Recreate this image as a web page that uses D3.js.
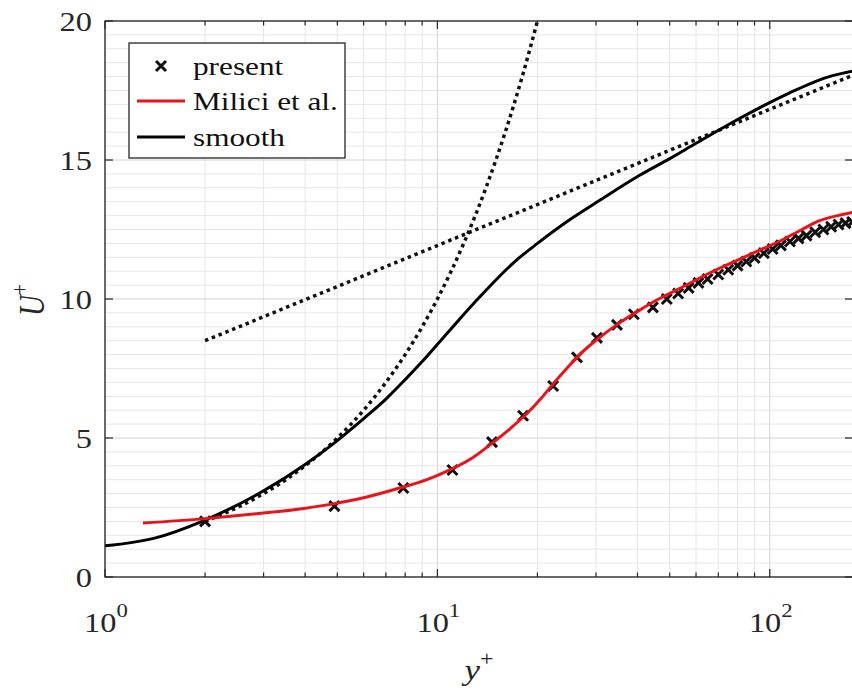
<!DOCTYPE html>
<html>
<head>
<meta charset="utf-8">
<script src="https://cdn.jsdelivr.net/npm/d3@7"></script>
<style>
  body { margin: 0; background: #fff; }
  svg { display: block; font-family: "Liberation Serif", "Times New Roman", serif; }
</style>
</head>
<body>
<svg id="chart" width="852" height="692"></svg>
<script>
// data
const presentYplus = [2.0, 4.9, 7.9, 11.1, 14.6, 18.1, 22.3, 26.3, 30.2, 34.7, 39, 44.5, 49, 53, 57, 61, 65, 70, 75, 80, 85, 90, 96, 102, 108, 115, 122, 129, 137, 145, 153, 161, 169, 177];
const presentU     = [2.0, 2.55, 3.2, 3.85, 4.85, 5.8, 6.87, 7.9, 8.6, 9.07, 9.45, 9.7, 10.0, 10.2, 10.4, 10.58, 10.72, 10.88, 11.05, 11.2, 11.35, 11.48, 11.65, 11.8, 11.93, 12.07, 12.18, 12.28, 12.4, 12.5, 12.6, 12.68, 12.73, 12.77];

const miliciYplus = [1.3, 2, 3, 3.86, 4.85, 6, 7.7, 9.3, 10.9, 12.8, 14.7, 16.6, 18.6, 20.5, 22.3, 24.5, 26.8, 30.8, 35.4, 40.6, 46, 55, 65, 80, 95, 110, 125, 140, 160, 178];
const miliciU     = [1.94, 2.1, 2.3, 2.45, 2.63, 2.85, 3.2, 3.5, 3.85, 4.3, 4.84, 5.35, 5.88, 6.42, 6.95, 7.5, 8.0, 8.62, 9.15, 9.6, 9.98, 10.45, 10.9, 11.4, 11.8, 12.15, 12.5, 12.8, 13.0, 13.12];

const smoothYplus = [1, 1.41, 2, 3, 4, 4.75, 6, 7, 8, 9, 10.9, 13.4, 17.3, 20, 25, 30.8, 40.6, 50, 60, 81.3, 114, 151, 178];
const smoothU     = [1.12, 1.4, 2.05, 3.1, 4.05, 4.7, 5.7, 6.4, 7.1, 7.75, 8.88, 10.07, 11.4, 12.0, 12.85, 13.55, 14.45, 15.05, 15.6, 16.5, 17.4, 18.0, 18.2];

const linearYplus = [2, 2.5, 3, 3.5, 4, 5, 6, 7, 8, 9, 10, 12, 14, 16, 18, 20];
const linearU     = [2, 2.5, 3, 3.5, 4, 5, 6, 7, 8, 9, 10, 12, 14, 16, 18, 20];

const logLawYplus = [2, 178];
const logLawU     = [8.5, 18.05];

const xTickValues = [1, 10, 100];
const xTickPowers = ["0", "1", "2"];
const yTickValues = [0, 5, 10, 15, 20];

const legendLabels = ["present", "Milici et al.", "smooth"];

// layout
const svg = d3.select("#chart");
const plotLeft = 105, plotRight = 853, plotTop = 21, plotBottom = 577;
const axisColor = "#262626";
const stretch = 1.2; // the picture's text is a bit wide

const x = d3.scaleLog().domain([1, 178]).range([plotLeft, plotRight]);
const y = d3.scaleLinear().domain([0, 20]).range([plotBottom, plotTop]);

// clip for the plot area
svg.append("defs").append("clipPath").attr("id", "plotClip")
  .append("rect")
  .attr("x", plotLeft).attr("y", plotTop)
  .attr("width", plotRight - plotLeft).attr("height", plotBottom - plotTop);

// grid
const minorX = [];
for (let dec = 1; dec <= 100; dec *= 10) {
  for (let m = 1; m <= 9; m++) {
    const v = m * dec;
    if (v <= 178) minorX.push(v);
  }
}
const minorY = d3.range(0, 20.01, 0.5);

const grid = svg.append("g").attr("class", "grid");
grid.selectAll("line.gx")
  .data(minorX)
  .enter().append("line")
  .attr("class", "gx")
  .attr("x1", d => x(d)).attr("x2", d => x(d))
  .attr("y1", plotTop).attr("y2", plotBottom)
  .attr("stroke", d => xTickValues.includes(d) ? "#d4d4d4" : "#e6e6e6")
  .attr("stroke-width", 1);

grid.selectAll("line.gy")
  .data(minorY)
  .enter().append("line")
  .attr("class", "gy")
  .attr("x1", plotLeft).attr("x2", plotRight)
  .attr("y1", d => y(d)).attr("y2", d => y(d))
  .attr("stroke", d => d % 5 === 0 ? "#d4d4d4" : "#e6e6e6")
  .attr("stroke-width", 1);

// curves
const plot = svg.append("g").attr("clip-path", "url(#plotClip)");

function pts(xs, ys) {
  return xs.map((v, i) => [v, ys[i]]);
}

const line = d3.line()
  .x(d => x(d[0]))
  .y(d => y(d[1]))
  .curve(d3.curveMonotoneX);

// U+ = y+ (viscous sublayer)
plot.append("path")
  .datum(pts(linearYplus, linearU))
  .attr("d", line)
  .attr("fill", "none")
  .attr("stroke", "#111")
  .attr("stroke-width", 3.5)
  .attr("stroke-dasharray", "3.5,3.8");

// log law
plot.append("path")
  .datum(pts(logLawYplus, logLawU))
  .attr("d", line)
  .attr("fill", "none")
  .attr("stroke", "#111")
  .attr("stroke-width", 3.5)
  .attr("stroke-dasharray", "3.5,3.8");

// smooth
plot.append("path")
  .datum(pts(smoothYplus, smoothU))
  .attr("d", line)
  .attr("fill", "none")
  .attr("stroke", "#000")
  .attr("stroke-width", 3);

// present (crosses)
const crossSize = 5;
const crossPath = "M" + (-crossSize) + "," + (-crossSize) + "L" + crossSize + "," + crossSize +
                  "M" + (-crossSize) + "," + crossSize + "L" + crossSize + "," + (-crossSize);
plot.append("g").selectAll("path")
  .data(pts(presentYplus, presentU))
  .enter().append("path")
  .attr("transform", d => "translate(" + x(d[0]) + "," + y(d[1]) + ")")
  .attr("d", crossPath)
  .attr("stroke", "#111")
  .attr("stroke-width", 3)
  .attr("fill", "none");

// Milici et al.
plot.append("path")
  .datum(pts(miliciYplus, miliciU))
  .attr("d", line)
  .attr("fill", "none")
  .attr("stroke", "#e8141c")
  .attr("stroke-width", 3);

// axes box
svg.append("rect")
  .attr("x", plotLeft).attr("y", plotTop)
  .attr("width", plotRight - plotLeft).attr("height", plotBottom - plotTop)
  .attr("fill", "none")
  .attr("stroke", axisColor)
  .attr("stroke-width", 1.3);

// ticks (inward, all four sides)
const ticks = svg.append("g").attr("stroke", axisColor).attr("stroke-width", 1.2);
minorX.forEach(function (v) {
  const len = xTickValues.includes(v) ? 8 : 4.5;
  ticks.append("line").attr("x1", x(v)).attr("x2", x(v)).attr("y1", plotBottom).attr("y2", plotBottom - len);
  ticks.append("line").attr("x1", x(v)).attr("x2", x(v)).attr("y1", plotTop).attr("y2", plotTop + len);
});
yTickValues.forEach(function (v) {
  ticks.append("line").attr("x1", plotLeft).attr("x2", plotLeft + 8).attr("y1", y(v)).attr("y2", y(v));
  ticks.append("line").attr("x1", plotRight).attr("x2", plotRight - 8).attr("y1", y(v)).attr("y2", y(v));
});

// tick labels
svg.append("g").selectAll("text")
  .data(yTickValues)
  .enter().append("text")
  .attr("transform", d => "translate(92," + (y(d) + 10) + ") scale(" + stretch + ",1)")
  .attr("text-anchor", "end")
  .attr("font-size", 27)
  .attr("fill", "#262626")
  .text(d => d);

const xl = svg.append("g").selectAll("text")
  .data(xTickValues)
  .enter().append("text")
  .attr("transform", d => "translate(" + (x(d) + 1) + ",632) scale(" + stretch + ",1)")
  .attr("text-anchor", "middle")
  .attr("font-size", 27)
  .attr("fill", "#262626");
xl.append("tspan").text("10");
xl.append("tspan")
  .attr("font-size", 19)
  .attr("dy", -15)
  .text((d, i) => xTickPowers[i]);

// axis labels
const xlab = svg.append("text")
  .attr("transform", "translate(479,680) scale(" + stretch + ",1)")
  .attr("text-anchor", "middle")
  .attr("font-size", 29)
  .attr("fill", "#262626");
xlab.append("tspan").attr("font-style", "italic").text("y");
xlab.append("tspan").attr("font-size", 20).attr("dy", -14).text("+");

const ylab = svg.append("text")
  .attr("transform", "translate(44,300) rotate(-90) scale(1," + stretch + ")")
  .attr("text-anchor", "middle")
  .attr("font-size", 29)
  .attr("fill", "#262626");
ylab.append("tspan").attr("font-style", "italic").text("U");
ylab.append("tspan").attr("font-size", 20).attr("dy", -14).text("+");

// legend
const lg = svg.append("g");
lg.append("rect")
  .attr("x", 129).attr("y", 43)
  .attr("width", 216).attr("height", 115)
  .attr("fill", "#fff")
  .attr("stroke", axisColor)
  .attr("stroke-width", 1.3);

const rowY = [66, 101, 137];
lg.append("path")
  .attr("transform", "translate(161," + rowY[0] + ")")
  .attr("d", crossPath)
  .attr("stroke", "#111")
  .attr("stroke-width", 3);
lg.append("line")
  .attr("x1", 137).attr("x2", 185)
  .attr("y1", rowY[1]).attr("y2", rowY[1])
  .attr("stroke", "#e8141c").attr("stroke-width", 3);
lg.append("line")
  .attr("x1", 137).attr("x2", 185)
  .attr("y1", rowY[2]).attr("y2", rowY[2])
  .attr("stroke", "#000").attr("stroke-width", 3);

lg.selectAll("text")
  .data(legendLabels)
  .enter().append("text")
  .attr("transform", (d, i) => "translate(193," + (rowY[i] + 9) + ") scale(1.25,1)")
  .attr("font-size", 25)
  .attr("fill", "#111")
  .text(d => d);
</script>
</body>
</html>
